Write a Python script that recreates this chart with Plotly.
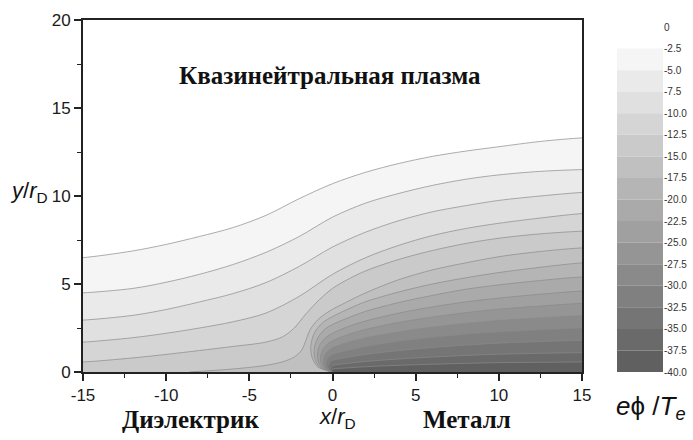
import plotly.graph_objects as go

# Potential levels e*phi/Te (contour values) and the gray of the band just below each level
levels = [-2.5, -5.0, -7.5, -10.0, -12.5, -15.0, -17.5, -20.0, -22.5, -25.0,
          -27.5, -30.0, -32.5, -35.0, -37.5]
band_grays = ["#f5f5f5", "#eaeaea", "#e0e0e0", "#d5d5d5", "#cacaca", "#c0c0c0",
              "#b5b5b5", "#aaaaaa", "#a0a0a0", "#959595", "#8a8a8a", "#808080",
              "#757575", "#6a6a6a", "#606060"]
bottom_level = -40.0

# Equipotential lines (x/rD, y/rD) for each level
line_x = {
    -2.5: [-15, -12, -10, -8, -6, -4, -2, 0, 2, 4, 6, 8, 10, 12.5, 15],
    -5.0: [-15, -12, -10, -8, -6, -4, -2, 0, 2, 4, 6, 8, 10, 12.5, 15],
    -7.5: [-15, -12, -10, -8, -6, -4, -2, 0, 2, 4, 6, 8, 10, 12.5, 15],
    -10.0: [-15, -12, -10, -8, -6, -4, -2, 0, 2, 4, 6, 8, 10, 12.5, 15],
    -12.5: [-15, -12, -10, -8, -6, -4, -3, -2.3, -1.6, -0.8, 0, 1, 2, 4, 6, 8, 10, 12.5, 15],
    -15.0: [-8.6, -6, -4, -3, -2.3, -1.85, -1.6, -1.35, -0.9, -0.2, 0.8, 2, 4, 6, 8, 10, 12.5, 15],
    -17.5: [0, -0.9, -1.25, -1.3, -1.1, -0.6, 0, 1, 2, 4, 6, 8, 10, 12.5, 15],
    -20.0: [0, -0.75, -1.05, -1.1, -0.9, -0.5, 0, 1, 2, 4, 6, 8, 10, 12.5, 15],
    -22.5: [0, -0.6, -0.85, -0.9, -0.75, -0.4, 0, 1, 2, 4, 6, 8, 10, 12.5, 15],
    -25.0: [0, -0.47, -0.68, -0.72, -0.6, -0.32, 0, 1, 2, 4, 6, 8, 10, 12.5, 15],
    -27.5: [0, -0.36, -0.52, -0.55, -0.46, -0.25, 0, 1, 2, 4, 6, 8, 10, 12.5, 15],
    -30.0: [0, -0.26, -0.38, -0.4, -0.33, -0.18, 0, 1, 2, 4, 6, 8, 10, 12.5, 15],
    -32.5: [0, -0.17, -0.25, -0.27, -0.22, -0.12, 0, 1, 2, 4, 6, 8, 10, 12.5, 15],
    -35.0: [0, -0.09, -0.13, -0.14, -0.11, -0.06, 0, 1, 2, 4, 6, 8, 10, 12.5, 15],
    -37.5: [0, -0.04, -0.06, -0.06, -0.05, 0, 1, 2, 4, 6, 8, 10, 12.5, 15],
}
line_y = {
    -2.5: [6.5, 6.88, 7.25, 7.7, 8.2, 8.9, 9.85, 10.7, 11.35, 11.85, 12.25, 12.55, 12.8, 13.1, 13.3],
    -5.0: [4.5, 4.75, 5.1, 5.55, 6.1, 6.8, 7.7, 8.8, 9.6, 10.15, 10.6, 10.95, 11.2, 11.4, 11.5],
    -7.5: [2.95, 3.22, 3.55, 3.98, 4.45, 5.08, 6.0, 7.1, 7.95, 8.6, 9.1, 9.45, 9.75, 10.0, 10.2],
    -10.0: [1.7, 1.95, 2.2, 2.5, 2.85, 3.35, 4.3, 5.55, 6.5, 7.2, 7.75, 8.15, 8.45, 8.75, 9.0],
    -12.5: [0.57, 0.8, 1.0, 1.22, 1.45, 1.7, 2.0, 2.5, 3.3, 4.1, 4.75, 5.3, 5.75, 6.4, 6.9, 7.3, 7.6, 7.85, 8.0],
    -15.0: [0.0, 0.17, 0.38, 0.58, 0.85, 1.25, 1.8, 2.4, 2.95, 3.45, 3.95, 4.5, 5.25, 5.8, 6.2, 6.55, 6.85, 7.05],
    -17.5: [0.0, 0.3, 0.9, 1.5, 2.2, 2.8, 3.15, 3.6, 4.0, 4.55, 5.0, 5.35, 5.65, 5.95, 6.2],
    -20.0: [0.0, 0.25, 0.75, 1.3, 1.9, 2.4, 2.7, 3.1, 3.45, 3.95, 4.35, 4.7, 4.95, 5.2, 5.4],
    -22.5: [0.0, 0.2, 0.6, 1.05, 1.55, 1.95, 2.2, 2.6, 2.9, 3.35, 3.7, 3.98, 4.2, 4.42, 4.6],
    -25.0: [0.0, 0.17, 0.48, 0.85, 1.25, 1.57, 1.78, 2.15, 2.42, 2.82, 3.12, 3.37, 3.57, 3.75, 3.9],
    -27.5: [0.0, 0.13, 0.37, 0.66, 0.97, 1.22, 1.38, 1.7, 1.94, 2.28, 2.55, 2.76, 2.93, 3.08, 3.2],
    -30.0: [0.0, 0.1, 0.27, 0.48, 0.71, 0.9, 1.0, 1.25, 1.45, 1.75, 1.97, 2.15, 2.28, 2.4, 2.5],
    -32.5: [0.0, 0.06, 0.18, 0.32, 0.47, 0.6, 0.67, 0.85, 1.0, 1.22, 1.39, 1.53, 1.64, 1.73, 1.8],
    -35.0: [0.0, 0.03, 0.1, 0.18, 0.26, 0.33, 0.37, 0.5, 0.6, 0.74, 0.85, 0.94, 1.01, 1.06, 1.1],
    -37.5: [0.0, 0.015, 0.05, 0.09, 0.12, 0.16, 0.24, 0.3, 0.38, 0.44, 0.49, 0.53, 0.55, 0.57],
}

x_ticks = [-15, -10, -5, 0, 5, 10, 15]
x_ticktext = ["-15", "-10", "-5", "0", "5", "10", "15"]
y_ticks = [0, 5, 10, 15, 20]
y_ticktext = ["0", "5", "10", "15", "20"]
cbar_ticks = [0, -2.5, -5, -7.5, -10, -12.5, -15, -17.5, -20, -22.5, -25, -27.5,
              -30, -32.5, -35, -37.5, -40]
cbar_ticktext = ["0", "-2.5", "-5.0", "-7.5", "-10.0", "-12.5", "-15.0", "-17.5",
                 "-20.0", "-22.5", "-25.0", "-27.5", "-30.0", "-32.5", "-35.0",
                 "-37.5", "-40.0"]

XMIN, XMAX, YMIN, YMAX = -15, 15, 0, 20
PAD = 0.7  # closing vertices placed just outside the plotting window

# Figure geometry in pixels
W, H = 693, 440
ML, MR, MT, MB = 83, 30, 20, 68
PW, PH = W - ML - MR, H - MT - MB


def px_to_paper(px, py):
    return (px - ML) / PW, (H - MB - py) / PH


fig = go.Figure()

# Region phi < level drawn as a filled polygon, darker levels painted on top
for lev, gray in zip(levels, band_grays):
    xs = list(line_x[lev])
    ys = list(line_y[lev])
    if xs[0] <= XMIN:
        px = [XMIN - PAD] + xs + [XMAX + PAD, XMAX + PAD, XMIN - PAD]
        py = [ys[0]] + ys + [ys[-1], YMIN - PAD, YMIN - PAD]
    else:
        px = xs + [XMAX + PAD, XMAX + PAD, xs[0] + 0.01]
        py = ys + [ys[-1], YMIN - PAD, YMIN - PAD]
    fig.add_trace(go.Scatter(
        x=px, y=py, mode="lines", fill="toself", fillcolor=gray,
        line=dict(color="#8a8a8a", width=0.7, shape="spline", smoothing=0.9),
        hoverinfo="skip", showlegend=False, xaxis="x", yaxis="y"))

# Colour scale bar: one block per potential band
fig.add_trace(go.Bar(
    x=[0] * len(levels),
    base=levels[1:] + [bottom_level],
    y=[hi - lo for hi, lo in zip(levels, levels[1:] + [bottom_level])],
    width=1.0, marker=dict(color=band_grays, line=dict(width=0)),
    hoverinfo="skip", showlegend=False, xaxis="x2", yaxis="y2"))

axis_font = dict(family="Liberation Sans, Arial", size=17, color="#1a1a1a")
fig.update_layout(
    width=W, height=H,
    margin=dict(l=ML, r=MR, t=MT, b=MB, autoexpand=False),
    paper_bgcolor="white", plot_bgcolor="white",
    barmode="overlay",
    xaxis=dict(domain=[0, 499 / PW], range=[XMIN, XMAX], showgrid=False, zeroline=False,
               tickmode="array", tickvals=x_ticks, ticktext=x_ticktext,
               ticks="outside", ticklen=7, tickwidth=1.5, tickcolor="#222",
               showline=True, linecolor="#222", linewidth=1.8, mirror=True,
               minor=dict(dtick=2.5, tick0=0, ticks="outside", ticklen=4,
                          tickwidth=1.2, tickcolor="#222"),
               tickfont=axis_font, anchor="y"),
    yaxis=dict(domain=[0, 1], range=[YMIN, YMAX], showgrid=False, zeroline=False,
               tickmode="array", tickvals=y_ticks, ticktext=y_ticktext,
               ticks="outside", ticklen=7, tickwidth=1.5, tickcolor="#222",
               showline=True, linecolor="#222", linewidth=1.8, mirror=True,
               minor=dict(dtick=2.5, tick0=0, ticks="outside", ticklen=4,
                          tickwidth=1.2, tickcolor="#222"),
               tickfont=axis_font, anchor="x"),
    xaxis2=dict(domain=[(617 - ML) / PW, (663 - ML) / PW], range=[-0.5, 0.5],
                visible=False, anchor="y2"),
    yaxis2=dict(domain=[0, 345 / PH], range=[-40, 0], anchor="x2", side="right",
                showgrid=False, zeroline=False, showline=False, ticks="",
                automargin=False,
                tickmode="array", tickvals=cbar_ticks, ticktext=cbar_ticktext,
                tickfont=dict(family="Liberation Sans, Arial", size=10, color="#333")),
)

serif_bold = dict(family="Liberation Serif, Times New Roman", size=25, color="#111")
label_font = dict(family="Liberation Sans, Arial", size=22, color="#111")
unit_font = dict(family="Liberation Sans, Arial", size=26, color="#111")


def add_label(text, px, py, font):
    ax, ay = px_to_paper(px, py)
    fig.add_annotation(x=ax, y=ay, xref="paper", yref="paper", showarrow=False,
                       xanchor="center", yanchor="middle", text=text, font=font)


add_label("<b>Квазинейтральная плазма</b>", 330, 75, serif_bold)
add_label("<b>Диэлектрик</b>", 190, 420, serif_bold)
add_label("<b>Металл</b>", 467, 420, serif_bold)
add_label("<i>x</i>/<i>r</i><sub>D</sub>", 337, 418, label_font)
add_label("<i>y</i>/<i>r</i><sub>D</sub>", 29, 192, label_font)
add_label("<i>e</i>\u03d5 /<i>T</i><sub><i>e</i></sub>", 651, 407, unit_font)

fig.write_html("out.html")
